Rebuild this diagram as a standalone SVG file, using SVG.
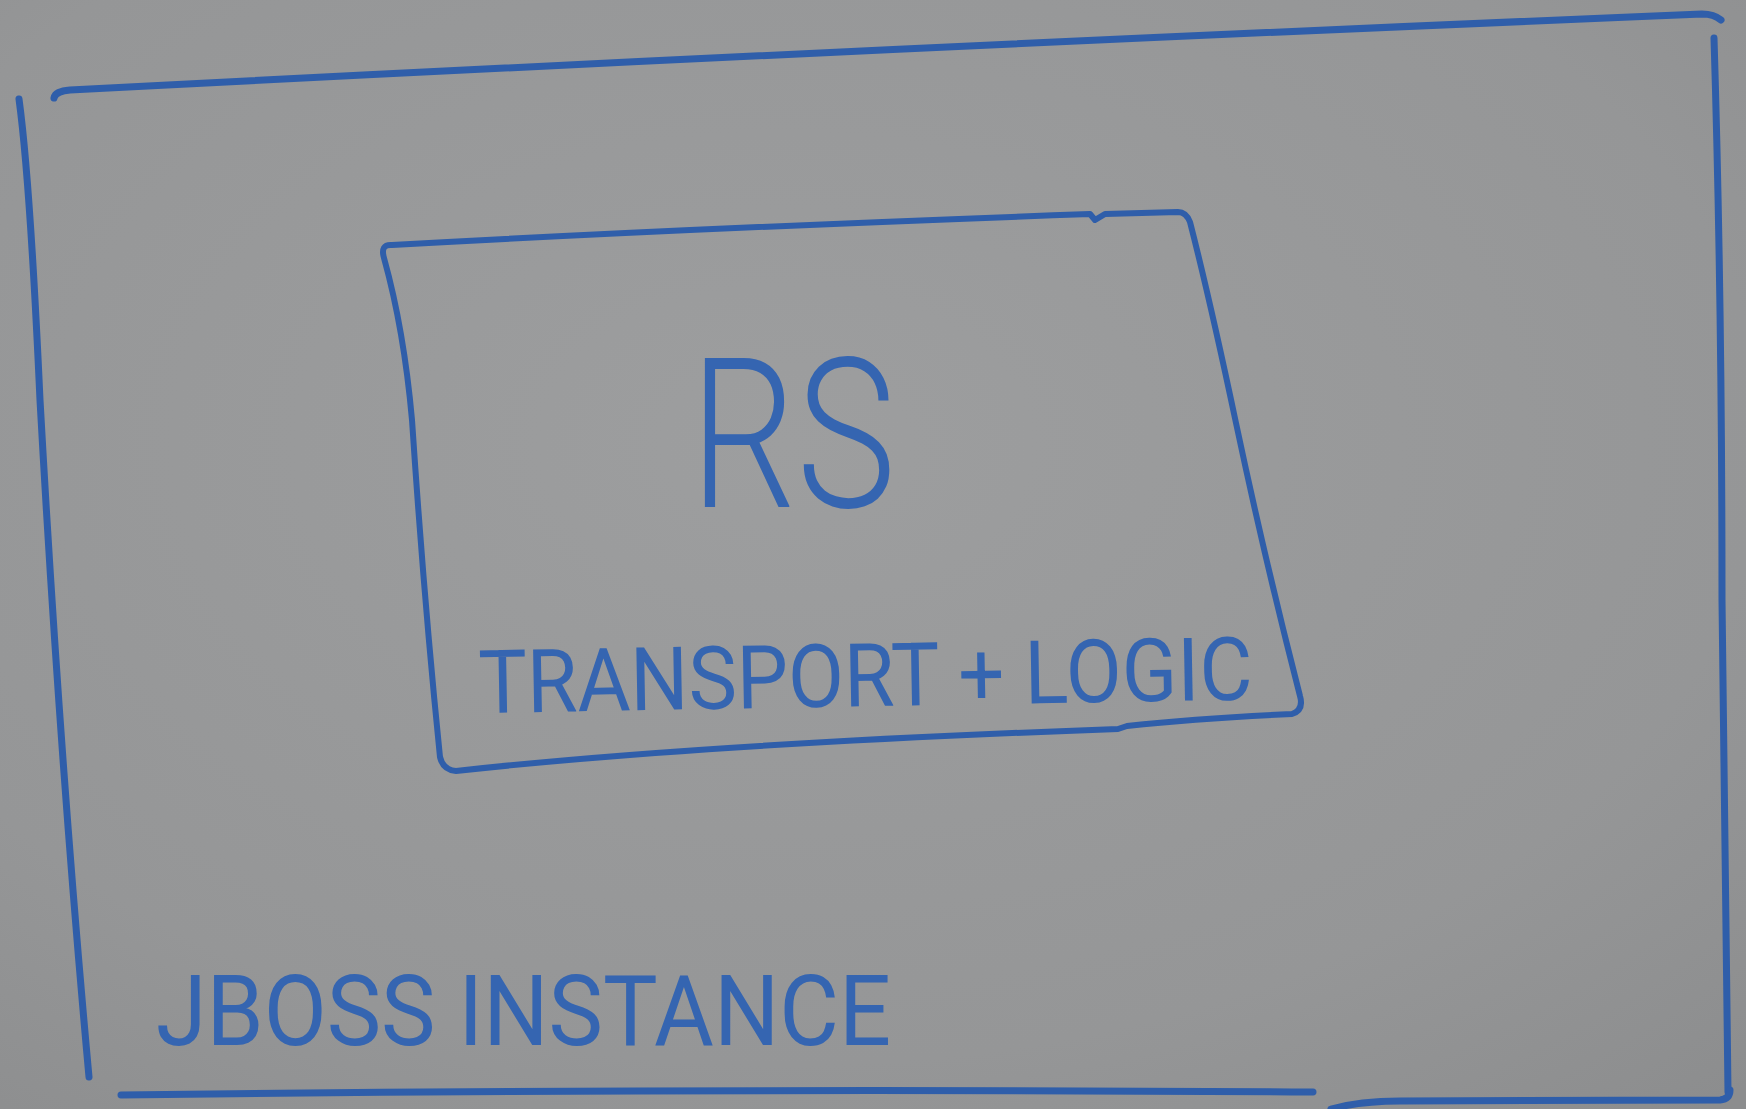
<svg xmlns="http://www.w3.org/2000/svg" width="1746" height="1109" viewBox="0 0 1746 1109">
  <defs>
    <radialGradient id="board" cx="0.45" cy="0.4" r="0.8">
      <stop offset="0" stop-color="#9d9e9f"/>
      <stop offset="0.7" stop-color="#959697"/>
      <stop offset="1" stop-color="#8c8d8e"/>
    </radialGradient>
  </defs>
  <style>
    .ink { fill: none; stroke: #2f5eaa; stroke-linecap: round; stroke-linejoin: round; }
    .outer { stroke-width: 7; }
    .inner { stroke-width: 6; }
    .hand { fill: #3565b1; font-family: Roboto, Inter, "Liberation Sans", sans-serif; }
  </style>
  <rect x="0" y="0" width="1746" height="1109" fill="url(#board)"/>

  <g id="jboss-instance">
    <path class="ink outer" d="M54,98 C55,93 60,91 70,90 Q880,48 1702,14 Q1714,14 1721,20"/>
    <path class="ink outer" d="M19,99 Q30,180 40,400 Q60,760 89,1077"/>
    <path class="ink outer" d="M1714,38 Q1722,300 1722,600 Q1726,900 1728,1092"/>
    <path class="ink outer" d="M121,1095 Q700,1088 1313,1092"/>
    <path class="ink outer" d="M1331,1109 Q1360,1101 1400,1101 L1720,1100 Q1730,1099 1730,1090"/>
    <text class="hand" x="156" y="1045" font-size="98" font-weight="400" textLength="735" lengthAdjust="spacingAndGlyphs">JBOSS INSTANCE</text>
  </g>

  <g id="rs">
    <path class="ink inner" d="M392,245 Q380,244 384,258 Q404,330 412,420 Q424,600 440,757 Q443,770 456,771 Q700,744 1118,729 L1127,726 Q1200,718 1292,714 Q1304,710 1300,696 Q1265,560 1236,423 Q1210,300 1190,222 Q1186,212 1178,212 L1105,214 L1095,220 L1090,214 Q700,228 392,245 Z"/>
    <text class="hand" x="690" y="507" font-size="210" font-weight="300" textLength="206" lengthAdjust="spacingAndGlyphs">RS</text>
    <text class="hand" x="479" y="713" font-size="88" font-weight="400" textLength="774" lengthAdjust="spacingAndGlyphs" transform="rotate(-1 479 713)">TRANSPORT + LOGIC</text>
  </g>

  <g id="connectors"/>
</svg>
